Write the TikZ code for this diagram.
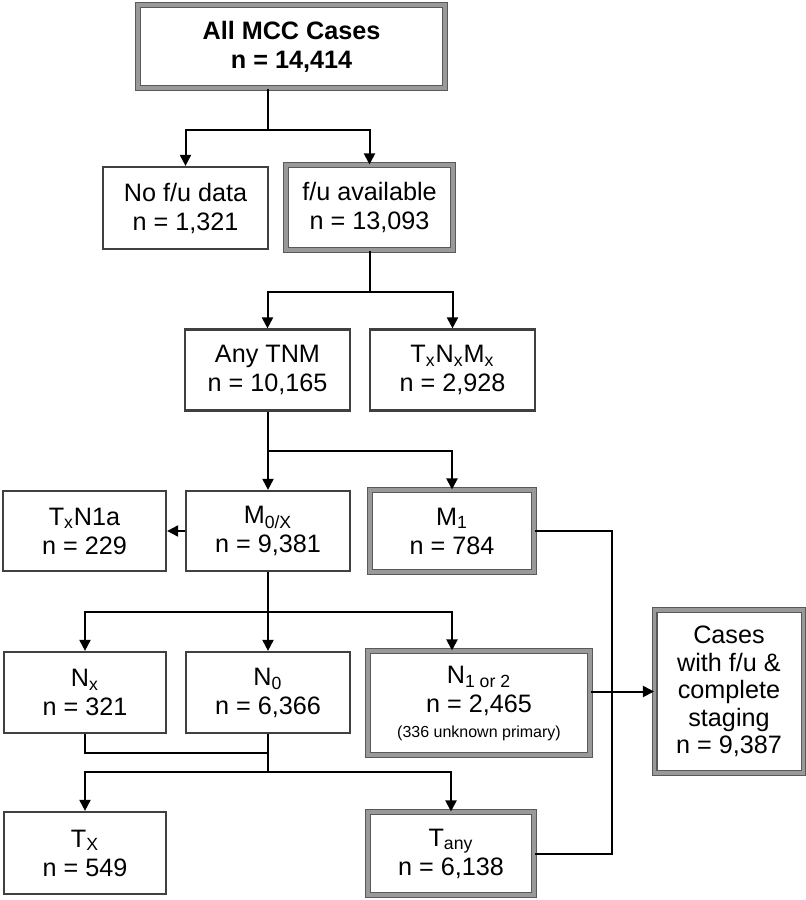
\documentclass[tikz,border=0pt]{standalone}
\usepackage{fontspec}
\setmainfont{Liberation Sans}
\usetikzlibrary{calc,arrows.meta}
\tikzset{
  box/.style={draw=black!75, line width=1.1pt, fill=white, align=center, inner sep=1pt,
    font=\fontsize{12.6}{14.5}\selectfont},
  heavybox/.style={box, draw=black!65, line width=0.55pt, double=gray!80, double distance=1.9pt},
  link/.style={line width=1pt},
  flow/.style={link, -{Triangle[length=5.5pt,width=5.5pt]}}
}
\begin{document}
\begin{tikzpicture}[x=0.5pt,y=-0.5pt]
        \useasboundingbox (0,0) rectangle (806,900);
        \node[heavybox, font=\bfseries\fontsize{12.6}{14.5}\selectfont, minimum width=153.5pt, minimum height=41.5pt] (all) at (291.5,46.5) {All MCC Cases\\n = 14,414};
        \node[box, minimum width=82.5pt, minimum height=41pt] (nofu) at (185.5,208) {No f/u data\\n = 1,321};
        \node[heavybox, minimum width=83.5pt, minimum height=42.5pt] (fu) at (369.5,207.5) {f/u available\\n = 13,093};
        \node[box, minimum width=82.5pt, minimum height=40.5pt] (anytnm) at (267.5,370) {Any TNM\\n = 10,165};
        \node[box, minimum width=82.5pt, minimum height=40.5pt] (txnxmx) at (452.5,370) {T\textsubscript{x}N\textsubscript{x}M\textsubscript{x}\\n = 2,928};
        \node[box, minimum width=81.5pt, minimum height=40pt] (txn1a) at (84.5,531) {T\textsubscript{x}N1a\\n = 229};
        \node[box, minimum width=82pt, minimum height=40pt] (m0x) at (268,531) {M\textsubscript{0/X}\\n = 9,381};
        \node[heavybox, minimum width=82pt, minimum height=41pt] (m1) at (452,531) {M\textsubscript{1}\\n = 784};
        \node[box, minimum width=81pt, minimum height=40.5pt] (nx) at (85,692.5) {N\textsubscript{x}\\n = 321};
        \node[box, minimum width=82pt, minimum height=40.5pt] (n0) at (268,692.5) {N\textsubscript{0}\\n = 6,366};
        \node[heavybox, minimum width=111pt, minimum height=52pt] (n12) at (479,703) {N\textsubscript{1 or 2}\\n = 2,465\\[-2pt]{\fontsize{8}{9}\selectfont (336 unknown primary)}};
        \node[heavybox, font=\fontsize{12.6}{13.75}\selectfont, minimum width=74.5pt, minimum height=81.5pt] (cases) at (729,691.5) {Cases\\with f/u \&\\complete\\staging\\n = 9,387};
        \node[box, minimum width=81pt, minimum height=41pt] (tx) at (85,853) {T\textsubscript{X}\\n = 549};
        \node[heavybox, minimum width=83pt, minimum height=41.5pt] (tany) at (451,853.5) {T\textsubscript{any}\\n = 6,138};
        \coordinate (j1) at (267.5,130);
        \coordinate (j2) at (369.5,292);
        \coordinate (j3) at (267.5,451);
        \coordinate (j4) at (268,612);
        \coordinate (j5) at (268,753);
        \coordinate (j6) at (268,772);
        \coordinate (rail) at (612,692);
        \draw[link] (all.south -| j1) -- (j1);
        \draw[flow] (j1) -| (nofu.north); \draw[flow] (j1) -| (fu.north);
        \draw[link] (fu.south) -- (j2);
        \draw[flow] (j2) -| (anytnm.north); \draw[flow] (j2) -| (txnxmx.north);
        \draw[link] (anytnm.south) -- (j3);
        \draw[flow] (j3) -| (m0x.north); \draw[flow] (j3) -| (m1.north);
        \draw[flow] (m0x.west) -- (txn1a.east);
        \draw[link] (m1.east) -| (rail) |- (tany.east);
        \draw[flow] (n12.east |- cases.west) -- (cases.west);
        \draw[link] (m0x.south) -- (j4);
        \draw[flow] (j4) -| (nx.north); \draw[flow] (j4) -- (n0.north); \draw[flow] (j4) -| (n12.north -| m1.south);
        \draw[link] (nx.south) |- (j5); \draw[link] (n0.south) -- (j6);
        \draw[flow] (j6) -| (tx.north); \draw[flow] (j6) -| (tany.north);
    \end{tikzpicture}
\end{document}
